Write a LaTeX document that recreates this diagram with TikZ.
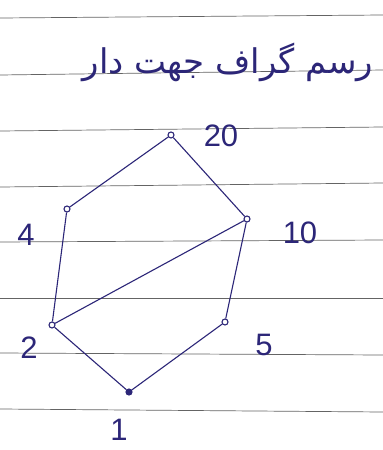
\documentclass[tikz,border=0pt]{standalone}
\usepackage{fontspec}
\setmainfont{Liberation Sans}
\newfontfamily\arabicfont[Script=Arabic]{DejaVu Sans}
\TeXXeTstate=1
\usetikzlibrary{positioning}
\definecolor{ink}{RGB}{44,38,120}
\definecolor{paperline}{RGB}{100,100,100}

\begin{document}
\begin{tikzpicture}[x=1pt, y=-1pt, every node/.style={text=ink, inner sep=0pt}, vertex/.style={circle, draw=ink, line width=1.1pt, fill=white, minimum size=6pt}, bottom/.style={vertex, fill=ink}, num/.style={font=\fontsize{31}{36}\selectfont}, edge/.style={draw=ink, line width=1.1pt}, ruling/.style={draw=paperline, line width=0.7pt}]
\useasboundingbox[fill=white] (0,0) rectangle (383,450);
% ruled paper
\foreach \yl/\yr in {18/15, 75/70, 131/127, 187/183, 242/240, 298/298, 353/355, 409/412}
  \draw[ruling] (0,\yl) -- (383,\yr);
% title
\node[font=\arabicfont\fontsize{34}{40}\selectfont] (title) at (228,62) {\beginR رسم گراف جهت دار\endR};
% vertices
\node[vertex] (v20) at (171,135) {};
\node[vertex] (v4) at (67,209) {};
\node[vertex] (v10) at (247,219) {};
\node[vertex] (v2) at (52,325) {};
\node[vertex] (v5) at (225,322) {};
\node[bottom] (v1) at (129,392) {};
% labels
\node[num] (l20) at (221,136) {20};
\node[num] (l4) at (26,235) {4};
\node[num] (l10) at (300,233) {10};
\node[num] (l2) at (29,348) {2};
\node[num] (l5) at (264,345) {5};
\node[num] (l1) at (119,430) {1};
% edges
\draw[edge] (v20) -- (v4);
\draw[edge] (v20) -- (v10);
\draw[edge] (v4) -- (v2);
\draw[edge] (v10) -- (v2);
\draw[edge] (v10) -- (v5);
\draw[edge] (v2) -- (v1);
\draw[edge] (v5) -- (v1);
\end{tikzpicture}
\end{document}
